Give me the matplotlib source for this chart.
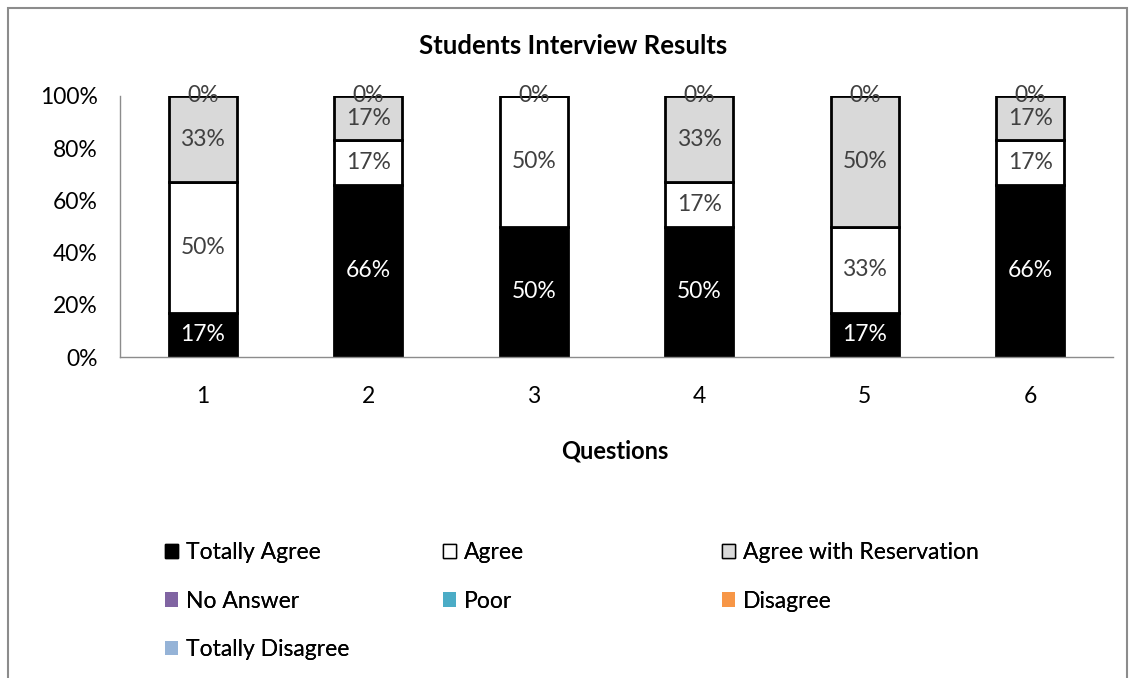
import numpy as np
import matplotlib.pyplot as plt
from matplotlib.patches import Rectangle

plt.rcParams['font.family'] = ['Lato', 'DejaVu Sans']

questions = ['1', '2', '3', '4', '5', '6']
totally_agree = [17, 66, 50, 50, 17, 66]
agree = [50, 17, 50, 17, 33, 17]
agree_reservation = [33, 17, 0, 33, 50, 17]
no_answer = [0, 0, 0, 0, 0, 0]
poor = [0, 0, 0, 0, 0, 0]
disagree = [0, 0, 0, 0, 0, 0]
totally_disagree = [0, 0, 0, 0, 0, 0]

series = [
    ('Totally Agree', totally_agree, '#000000', 'black'),
    ('Agree', agree, '#FFFFFF', 'black'),
    ('Agree with Reservation', agree_reservation, '#D9D9D9', 'black'),
    ('No Answer', no_answer, '#8064A2', 'none'),
    ('Poor', poor, '#4BACC6', 'none'),
    ('Disagree', disagree, '#F79646', 'none'),
    ('Totally Disagree', totally_disagree, '#95B3D7', 'none'),
]

fig = plt.figure(figsize=(11.35, 6.78), dpi=100)
ax = fig.add_axes([120 / 1135, 1 - 357 / 678, (1113 - 120) / 1135, (357 - 96) / 678])

# outer chart border
fig.patches.append(Rectangle((8 / 1135, -0.01), (1127 - 8) / 1135, 1 - 8 / 678 + 0.01,
                             transform=fig.transFigure, fill=False,
                             edgecolor='#8C8C8C', linewidth=1.5))

x = np.arange(1, len(questions) + 1)
width = 0.41
bottom = np.zeros(len(questions))
handles = {}
for name, vals, color, edge in series:
    vals = np.array(vals, dtype=float)
    h = ax.bar(x, vals, width, bottom=bottom, color=color,
               edgecolor=edge, linewidth=2 if edge != 'none' else 0, label=name)
    handles[name] = h
    for xi, v, b in zip(x, vals, bottom):
        if v > 0:
            tc = 'white' if color == '#000000' else '#404040'
            ax.text(xi, b + v / 2, f'{int(v)}%', ha='center', va='center',
                    fontsize=16.5, color=tc)
    bottom = bottom + vals

# zero labels sit on top of each bar
for xi, b, v in zip(x, bottom, no_answer):
    ax.text(xi, b, f'{v}%', ha='center', va='center', fontsize=16.5, color='#404040')

ax.set_xlim(0.5, 6.5)
ax.set_ylim(0, 100)
ax.set_yticks([0, 20, 40, 60, 80, 100])
ax.set_yticklabels([f'{t}%' for t in [0, 20, 40, 60, 80, 100]])
ax.set_xticks(x)
ax.set_xticklabels(questions)
ax.tick_params(length=0, labelsize=16.5, colors='#000000')
ax.tick_params(axis='y', pad=16)
ax.tick_params(axis='x', pad=21)
for s in ['top', 'right']:
    ax.spines[s].set_visible(False)
for s in ['left', 'bottom']:
    ax.spines[s].set_color('#8C8C8C')
    ax.spines[s].set_linewidth(1)

fig.text(573 / 1135, 1 - 46 / 678, 'Students Interview Results', ha='center',
         va='center', fontsize=18.5, fontweight='bold')
fig.text(615 / 1135, 1 - 451 / 678, 'Questions', ha='center', va='center',
         fontsize=17, fontweight='bold')

columns = [
    (['Totally Agree', 'No Answer', 'Totally Disagree'], 165),
    (['Agree', 'Poor'], 443),
    (['Agree with Reservation', 'Disagree'], 722),
]
for names, px in columns:
    leg = fig.legend([handles[n] for n in names], names,
                     loc='upper left', bbox_to_anchor=(px / 1135, 1 - 542 / 678),
                     frameon=False, fontsize=16.5, handlelength=0.55, handleheight=0.6,
                     handletextpad=0.35, labelspacing=1.2, borderpad=0,
                     borderaxespad=0)
    for p in leg.get_patches():
        p.set_linewidth(1)
    fig.add_artist(leg)

fig.savefig('out.png', dpi=100)
